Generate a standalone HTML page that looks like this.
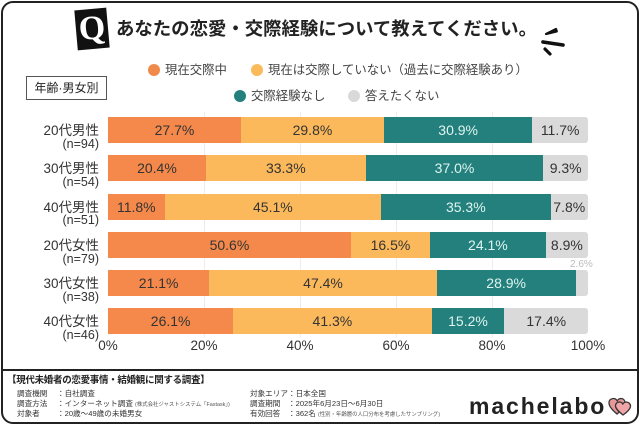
<!DOCTYPE html>
<html><head><meta charset="utf-8">
<style>
*{margin:0;padding:0;box-sizing:border-box}
html,body{width:640px;height:426px;background:#fff;overflow:hidden}
body{position:relative;font-family:"Liberation Sans","Noto Sans CJK JP",sans-serif;color:#333}
.abs{position:absolute;white-space:nowrap}
.frame{position:absolute;left:1px;top:1px;width:638px;height:423px;border:2px solid #222;border-radius:12px}
.divider{position:absolute;left:1px;top:369px;width:638px;height:2px;background:#222}
.title{left:116px;top:17px;font-size:18.4px;font-weight:bold;color:#222;line-height:24px;font-family:"Liberation Sans","Noto Sans CJK JP",sans-serif}
.leg{font-size:12.4px;color:#444;line-height:16px}
.dot{position:absolute;width:12px;height:12px;border-radius:50%}
.box{position:absolute;left:26px;top:76px;width:81px;height:24px;border:1px solid #555;font-size:12px;line-height:22px;text-align:center;color:#222}
.grid{position:absolute;top:112px;width:1px;height:226px;background:#ececec}
.row{position:absolute;left:108px;width:480px;height:26px;display:flex;overflow:hidden;border-radius:0 3px 3px 0}
.seg{height:26px;line-height:26px;text-align:center;font-size:14px;color:#333;overflow:visible;white-space:nowrap}
.o{background:#F5894B}.y{background:#FCB95B}.t{background:#23807D;color:#dff4f0}.g{background:#DADADA;flex:1 1 auto}
.cat{position:absolute;left:0;width:99px;text-align:right;font-size:13.5px;line-height:16px;color:#333}
.n{position:absolute;left:0;width:99px;text-align:right;font-size:12.5px;line-height:14px;color:#333}
.tick{position:absolute;top:338px;width:60px;text-align:center;font-size:13.5px;line-height:16px;color:#333}
.f{font-size:7.6px;line-height:10px;color:#333}
.fs{font-size:5.4px;color:#555}
</style></head><body>
<div class="frame"></div>
<div class="divider"></div>

<!-- Q icon -->
<div class="abs" style="left:76px;top:9px;width:32px;height:40px;background:#111;transform:rotate(-5deg);color:#fff;font-family:'Liberation Serif',serif;font-weight:bold;font-size:34px;line-height:40px;text-align:center">Q</div>
<div class="abs title">あなたの恋愛・交際経験について教えてください。</div>
<svg class="abs" style="left:538px;top:25px" width="30" height="34" viewBox="0 0 30 34">
<path d="M8 9 L18 4 L18.8 6.4 Z" fill="#111" stroke="#111" stroke-width="2.2" stroke-linejoin="round"/>
<path d="M5 17 L25 20" stroke="#111" stroke-width="3.6" stroke-linecap="round"/>
<path d="M7 24 L12 29" stroke="#111" stroke-width="3.2" stroke-linecap="round"/>
</svg>

<!-- legend -->
<div class="dot" style="left:148px;top:64px;background:#F08A4B"></div>
<div class="abs leg" style="left:165px;top:62px">現在交際中</div>
<div class="dot" style="left:251px;top:64px;background:#FBBB5B"></div>
<div class="abs leg" style="left:268px;top:62px">現在は交際していない（過去に交際経験あり）</div>
<div class="dot" style="left:234px;top:90px;background:#23807D"></div>
<div class="abs leg" style="left:251px;top:88px">交際経験なし</div>
<div class="dot" style="left:348px;top:90px;background:#D9D9D9"></div>
<div class="abs leg" style="left:365px;top:88px">答えたくない</div>

<div class="box">年齢·男女別</div>

<!-- gridlines -->
<div class="grid" style="left:204px"></div>
<div class="grid" style="left:300px"></div>
<div class="grid" style="left:396px"></div>
<div class="grid" style="left:492px"></div>

<!-- rows -->
<div class="row" style="top:117px"><div class="seg o" style="flex:0 0 27.7%">27.7%</div><div class="seg y" style="flex:0 0 29.8%">29.8%</div><div class="seg t" style="flex:0 0 30.9%">30.9%</div><div class="seg g">11.7%</div></div>
<div class="row" style="top:155px"><div class="seg o" style="flex:0 0 20.4%">20.4%</div><div class="seg y" style="flex:0 0 33.3%">33.3%</div><div class="seg t" style="flex:0 0 37.0%">37.0%</div><div class="seg g">9.3%</div></div>
<div class="row" style="top:193.5px"><div class="seg o" style="flex:0 0 11.8%">11.8%</div><div class="seg y" style="flex:0 0 45.1%">45.1%</div><div class="seg t" style="flex:0 0 35.3%">35.3%</div><div class="seg g">7.8%</div></div>
<div class="row" style="top:232px"><div class="seg o" style="flex:0 0 50.6%">50.6%</div><div class="seg y" style="flex:0 0 16.5%">16.5%</div><div class="seg t" style="flex:0 0 24.1%">24.1%</div><div class="seg g">8.9%</div></div>
<div class="row" style="top:270px"><div class="seg o" style="flex:0 0 21.1%">21.1%</div><div class="seg y" style="flex:0 0 47.4%">47.4%</div><div class="seg t" style="flex:0 0 28.9%">28.9%</div><div class="seg g"></div></div>
<div class="row" style="top:308px"><div class="seg o" style="flex:0 0 26.1%">26.1%</div><div class="seg y" style="flex:0 0 41.3%">41.3%</div><div class="seg t" style="flex:0 0 15.2%">15.2%</div><div class="seg g">17.4%</div></div>
<div class="abs" style="left:570px;top:259px;font-size:10px;line-height:12px;color:#bbb">2.6%</div>

<!-- category labels -->
<div class="cat" style="top:123px">20代男性</div><div class="n" style="top:136.5px">(n=94)</div>
<div class="cat" style="top:161px">30代男性</div><div class="n" style="top:174.5px">(n=54)</div>
<div class="cat" style="top:199.5px">40代男性</div><div class="n" style="top:213px">(n=51)</div>
<div class="cat" style="top:238px">20代女性</div><div class="n" style="top:251.5px">(n=79)</div>
<div class="cat" style="top:276px">30代女性</div><div class="n" style="top:289.5px">(n=38)</div>
<div class="cat" style="top:314px">40代女性</div><div class="n" style="top:327.5px">(n=46)</div>

<!-- ticks -->
<div class="tick" style="left:78px">0%</div>
<div class="tick" style="left:174px">20%</div>
<div class="tick" style="left:270px">40%</div>
<div class="tick" style="left:366px">60%</div>
<div class="tick" style="left:462px">80%</div>
<div class="tick" style="left:558px">100%</div>

<!-- footer -->
<div class="abs" style="left:7px;top:375px;font-size:9.5px;font-weight:bold;letter-spacing:-0.3px;line-height:12px;color:#222">【現代未婚者の恋愛事情・結婚観に関する調査】</div>
<div class="abs f" style="left:17px;top:389px">調査機関</div>
<div class="abs f" style="left:57px;top:389px">：自社調査</div>
<div class="abs f" style="left:17px;top:399px">調査方法</div>
<div class="abs f" style="left:57px;top:399px">：インターネット調査 <span class="fs">(株式会社ジャストシステム「Fastask」)</span></div>
<div class="abs f" style="left:17px;top:409px">対象者</div>
<div class="abs f" style="left:57px;top:409px">：20歳～49歳の未婚男女</div>
<div class="abs f" style="left:250px;top:389px">対象エリア</div>
<div class="abs f" style="left:288px;top:389px">：日本全国</div>
<div class="abs f" style="left:250px;top:399px">調査期間</div>
<div class="abs f" style="left:288px;top:399px">：2025年6月23日～6月30日</div>
<div class="abs f" style="left:250px;top:409px">有効回答</div>
<div class="abs f" style="left:288px;top:409px">：362名 <span class="fs">(性別・年齢層の人口分布を考慮したサンプリング)</span></div>

<div class="abs" style="left:469px;top:392px;font-size:23px;font-weight:bold;letter-spacing:1.9px;line-height:28px;color:#222">machelabo</div>
<svg class="abs" style="left:608px;top:397px" width="24" height="20" viewBox="0 0 24 20">
<path d="M9 17 C3 12 1 9 1 6 C1 3 3 1.5 5.5 1.5 C7.3 1.5 8.5 2.6 9.2 3.8 C10 2.6 11.2 1.5 13 1.5 C15.5 1.5 17 3.4 17 6 C17 9 14 12.5 9 17 Z" fill="#E6979A" stroke="#333" stroke-width="1.3"/>
<path d="M15 18 C10 14 7.5 11.5 7.5 8.8 C7.5 6.4 9.3 5 11.4 5 C13 5 14.2 6 14.8 7 C15.5 6 16.6 5 18.2 5 C20.4 5 22.5 6.6 22.5 9 C22.5 11.8 20 14.5 15 18 Z" fill="#EFA5A8" stroke="#333" stroke-width="1.3"/>
</svg>
</body></html>
